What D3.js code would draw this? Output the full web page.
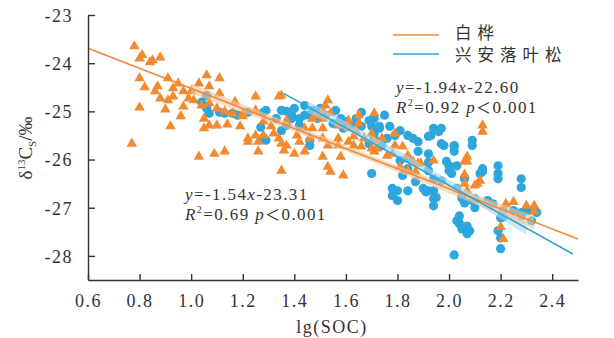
<!DOCTYPE html>
<html>
<head>
<meta charset="utf-8">
<script src="https://cdn.jsdelivr.net/npm/d3@7"></script>
<style>
  body { margin: 0; background: #fff; }
  text { font-family: "Liberation Serif", "Times New Roman", serif; fill: #333; }
</style>
</head>
<body>
<div id="chart"></div>
<script>
// axis ticks
const xTicks = [0.6, 0.8, 1.0, 1.2, 1.4, 1.6, 1.8, 2.0, 2.2, 2.4];
const yTicks = [-23, -24, -25, -26, -27, -28];
const seriesNames = ["白桦", "兴安落叶松"];

// 白桦 (birch) samples: [lg(SOC), δ13C]
const birch = [
  [0.78,-23.65],[0.81,-23.83],[0.80,-23.90],[0.85,-23.94],[0.88,-23.88],[0.84,-23.98],
  [0.77,-25.67],[0.80,-24.31],[0.82,-24.50],[0.86,-24.58],[0.87,-24.48],[0.91,-24.31],
  [0.95,-24.42],[0.93,-24.52],[0.88,-24.73],[0.91,-24.77],[0.93,-24.69],[0.97,-24.58],
  [1.00,-24.58],[0.99,-24.73],[0.80,-24.92],[0.90,-24.96],[0.97,-24.90],[0.96,-25.10],
  [0.92,-25.31],[1.03,-25.94],[1.03,-24.42],[1.04,-24.88],[1.05,-25.15],[1.05,-25.35],
  [1.06,-24.25],[1.01,-24.77],[1.11,-24.31],[1.07,-24.48],[1.11,-24.63],[1.07,-24.83],
  [1.10,-24.94],[1.13,-25.00],[1.16,-25.04],[1.20,-25.04],[1.20,-25.10],[1.07,-25.29],
  [1.10,-25.29],[1.25,-24.69],[1.34,-24.69],[1.25,-24.98],[1.22,-25.56],[1.25,-25.50],
  [1.22,-25.63],[1.26,-25.63],[1.09,-25.88],[1.13,-25.83],[1.26,-25.83],[1.31,-25.31],
  [1.32,-25.46],[1.28,-25.50],[1.34,-25.56],[1.35,-25.67],[1.37,-25.71],[1.36,-25.81],
  [1.35,-26.23],[1.37,-25.19],[1.28,-25.21],[1.14,-25.27],[1.19,-25.31],[1.17,-24.80],
  [1.53,-24.77],[1.52,-24.88],[1.51,-24.98],[1.54,-25.04],[1.48,-25.08],[1.47,-25.15],
  [1.51,-25.15],[1.47,-25.35],[1.51,-25.35],[1.44,-25.35],[1.41,-25.50],[1.42,-25.63],
  [1.46,-25.56],[1.51,-25.56],[1.53,-25.71],[1.44,-25.83],[1.40,-25.88],[1.51,-25.94],
  [1.58,-25.94],[1.53,-26.15],[1.54,-26.25],[1.59,-26.33],[1.57,-25.56],[1.57,-25.71],
  [1.61,-25.63],[1.61,-25.19],[1.65,-25.08],[1.65,-25.25],[1.64,-25.42],[1.63,-25.52],
  [1.63,-25.71],[1.66,-25.73],[1.67,-25.56],[1.70,-25.46],[1.70,-25.77],[1.71,-25.60],
  [1.71,-25.83],[1.61,-25.35],[1.57,-25.29],[1.71,-25.04],[1.74,-25.56],[1.79,-25.46],
  [1.79,-25.71],[1.82,-25.73],[1.84,-25.92],[1.86,-26.04],[1.88,-26.08],[1.84,-26.23],
  [1.94,-26.02],[2.06,-26.04],[1.72,-25.77],[1.76,-25.92],[1.78,-25.88],[1.81,-26.15],
  [1.87,-26.25],[1.89,-26.08],[2.13,-25.29],[2.13,-25.42],[2.07,-25.94],[2.07,-26.04],
  [2.06,-26.31],[2.06,-26.50],[2.11,-26.50],[2.12,-26.44],[2.10,-26.54],[2.07,-26.65],
  [2.22,-26.92],[2.25,-26.88],[2.30,-26.96],[2.33,-26.96],[2.33,-27.08],[2.20,-27.40],
  [2.21,-27.65],[1.35,-24.67]
];

// 兴安落叶松 (larch) samples
const larch = [
  [1.06,-24.67],[1.04,-24.81],[1.06,-24.94],[1.07,-25.04],[1.11,-25.02],[1.13,-25.04],
  [1.16,-25.04],[1.18,-25.08],[1.22,-25.02],[1.28,-25.02],[1.27,-25.33],[1.28,-25.54],
  [1.29,-25.60],[1.29,-24.98],[1.35,-24.98],[1.37,-25.00],[1.39,-25.15],[1.39,-25.08],
  [1.42,-25.15],[1.44,-25.08],[1.46,-25.08],[1.47,-24.98],[1.49,-25.15],[1.55,-25.25],
  [1.58,-25.15],[1.60,-25.21],[1.62,-25.29],[1.66,-25.31],[1.69,-25.19],[1.70,-25.31],
  [1.71,-25.15],[1.73,-25.35],[1.71,-25.56],[1.69,-25.67],[1.71,-25.46],[1.70,-26.29],
  [1.46,-25.71],[1.46,-25.60],[1.40,-24.94],[1.44,-24.88],[1.50,-24.94],[1.52,-25.08],
  [1.56,-24.98],[1.42,-25.29],[1.37,-25.29],[1.33,-25.15],[1.59,-25.35],[1.64,-25.15],
  [1.66,-25.02],[1.35,-25.40],
  [1.75,-25.08],[1.73,-25.31],[1.77,-25.31],[1.79,-25.50],[1.81,-25.40],[1.76,-25.56],
  [1.74,-25.71],[1.84,-25.50],[1.86,-25.56],[1.88,-25.63],[1.88,-25.83],[1.92,-25.52],
  [1.94,-25.35],[1.96,-25.42],[1.98,-25.71],[2.02,-25.73],[2.02,-25.83],[1.99,-26.04],
  [2.00,-26.13],[2.03,-26.13],[1.92,-26.23],[1.87,-26.46],[1.82,-26.33],[1.80,-26.65],
  [1.78,-26.60],[1.78,-26.75],[1.84,-26.65],[1.80,-26.85],[1.94,-26.65],[1.94,-26.81],
  [1.91,-26.67],[2.03,-26.60],[2.05,-26.75],[2.04,-27.33],[2.05,-27.44],[2.02,-27.98],
  [2.04,-27.17],[1.84,-26.19],[1.81,-26.02],[1.84,-25.98],[1.94,-26.40],
  [1.97,-25.35],[1.93,-25.50],[1.97,-25.67],[2.02,-25.71],[2.09,-25.60],[2.09,-25.71],
  [1.92,-25.88],[1.92,-26.06],[2.00,-26.23],[2.01,-26.29],[2.13,-26.19],[2.12,-26.29],
  [2.19,-26.13],[2.19,-26.29],[2.19,-26.40],[2.28,-26.40],[2.28,-26.58],[1.90,-26.60],
  [1.92,-26.65],[1.95,-26.79],[1.94,-26.96],[1.97,-26.44],[2.06,-26.90],[2.10,-26.81],
  [2.10,-27.00],[2.15,-26.85],[2.20,-27.21],[2.25,-27.06],[2.28,-27.10],[2.31,-27.06],
  [2.34,-27.10],[2.32,-27.27],[2.03,-27.27],[2.07,-27.38],[2.08,-27.48],[2.07,-27.54],
  [2.19,-27.48],[2.20,-27.63],[2.20,-27.85],[2.06,-26.40],[2.13,-26.25],[2.17,-26.92],
  [2.21,-27.06],[2.21,-27.19],[2.28,-27.17],[2.30,-27.06],[2.05,-26.81],[2.09,-26.85]
];

// fitted lines as drawn, and their confidence bands [x, lower, upper]
const birchFit = [[0.6, -23.69], [2.5, -27.65]];
const larchFit = [[1.36, -24.63], [2.48, -27.96]];
const birchBand = [[1.0,-24.63,-24.42],[1.3,-25.22,-25.06],[1.6,-25.83,-25.71],[1.9,-26.48,-26.33],[2.33,-27.44,-27.16]];
const larchBand = [[1.45,-25.02,-24.78],[1.8,-25.95,-25.80],[2.1,-26.90,-26.72],[2.3,-27.56,-27.28]];

const width = 614, height = 338;
const x = d3.scaleLinear().domain([0.6, 2.5]).range([88, 578]);
const y = d3.scaleLinear().domain([-28.5, -23]).range([280, 15]);

const orange = "#F28A30", blue = "#2CA6DD";

const svg = d3.select("#chart").append("svg")
    .attr("width", width)
    .attr("height", height);

const area = d3.area()
    .x(d => x(d[0])).y0(d => y(d[1])).y1(d => y(d[2]))
    .curve(d3.curveMonotoneX);

// points
svg.append("g").selectAll("circle")
    .data(larch)
    .enter().append("circle")
    .attr("cx", d => x(d[0]))
    .attr("cy", d => y(d[1]))
    .attr("r", 4.6)
    .style("fill", blue);

const tri = d3.symbol().type(d3.symbolTriangle).size(48);
svg.append("g").selectAll("path")
    .data(birch)
    .enter().append("path")
    .attr("d", tri)
    .attr("transform", d => "translate(" + x(d[0]) + "," + y(d[1]) + ")")
    .style("fill", orange);

// bands
svg.append("path").datum(larchBand)
    .attr("d", area).style("fill", "#a9d7ea").style("opacity", 0.6);
svg.append("path").datum(birchBand)
    .attr("d", area).style("fill", "#f6c39a").style("opacity", 0.6);

const line = d3.line().x(d => x(d[0])).y(d => y(d[1]));
svg.append("path").datum(birchFit)
    .attr("d", line).style("fill", "none").style("stroke", "#F0883A").style("stroke-width", 1.5);
svg.append("path").datum(larchFit)
    .attr("d", line).style("fill", "none").style("stroke", "#2AA3DA").style("stroke-width", 1.5);

// axes
const xAxis = svg.append("g")
    .attr("transform", "translate(0," + y(-28.5) + ")")
    .call(d3.axisBottom(x).tickValues(xTicks).tickSizeInner(-6).tickSizeOuter(0).tickPadding(14)
        .tickFormat(d => d.toFixed(1)));
const yAxis = svg.append("g")
    .attr("transform", "translate(" + x(0.6) + ",0)")
    .call(d3.axisLeft(y).tickValues(yTicks).tickSizeInner(-7).tickSizeOuter(0).tickPadding(15)
        .tickFormat(d => String(d)));

[xAxis, yAxis].forEach(function(a) {
    a.select(".domain").style("stroke", "#333").style("stroke-width", 1.4);
    a.selectAll(".tick line").style("stroke", "#333").style("stroke-width", 1.4);
    a.selectAll(".tick text")
        .style("font-family", "'Liberation Serif', serif")
        .style("font-size", "18px")
        .style("letter-spacing", "1.5px")
        .style("fill", "#333");
});
yAxis.selectAll(".tick text").attr("dy", "0.35em");
xAxis.selectAll(".tick text").attr("dy", "0.71em");

// axis titles
svg.append("text")
    .attr("x", 332).attr("y", 333)
    .attr("text-anchor", "middle")
    .style("font-size", "18px")
    .style("letter-spacing", "1.5px")
    .text("lg(SOC)");

const yl = svg.append("text")
    .attr("transform", "translate(32,148) rotate(-90)")
    .attr("text-anchor", "middle")
    .style("font-size", "19px");
yl.append("tspan").text("δ");
yl.append("tspan").attr("dy", -7).style("font-size", "11px").text("13");
yl.append("tspan").attr("dy", 7).text("C");
yl.append("tspan").attr("dy", 4).style("font-size", "11px").text("S");
yl.append("tspan").attr("dy", -4).text("/‰");

// legend
const legend = svg.append("g");
[orange, blue].forEach(function(c, i) {
    legend.append("line")
        .attr("x1", 393).attr("x2", 439)
        .attr("y1", 35 + i * 19).attr("y2", 35 + i * 19)
        .style("stroke", c).style("stroke-width", 1.5);
    legend.append("text")
        .attr("x", 455).attr("y", 39 + i * 22)
        .style("font-family", "'Noto Sans CJK SC', sans-serif")
        .style("font-size", "16.5px")
        .style("letter-spacing", "6px")
        .text(seriesNames[i]);
});

// regression annotations
function annotate(x0, y0, eq, r2) {
    const t1 = svg.append("text").attr("x", x0).attr("y", y0)
        .style("font-size", "17px").style("letter-spacing", "1.4px");
    t1.append("tspan").style("font-style", "italic").text("y");
    t1.append("tspan").text("=" + eq[0]);
    t1.append("tspan").style("font-style", "italic").text("x");
    t1.append("tspan").text(eq[1]);
    const t2 = svg.append("text").attr("x", x0).attr("y", y0 + 20)
        .style("font-size", "17px").style("letter-spacing", "1.4px");
    t2.append("tspan").style("font-style", "italic").text("R");
    t2.append("tspan").attr("dy", -7).style("font-size", "10px").text("2");
    t2.append("tspan").attr("dy", 7).text("=" + r2 + "  ");
    t2.append("tspan").style("font-style", "italic").text("p");
    t2.append("tspan").style("font-family", "'Noto Sans CJK SC', sans-serif").style("font-size", "15px").text("＜");
    t2.append("tspan").text("0.001");
}
annotate(396, 93, ["-1.94", "-22.60"], "0.92");
annotate(185, 200, ["-1.54", "-23.31"], "0.69");
</script>
</body>
</html>
